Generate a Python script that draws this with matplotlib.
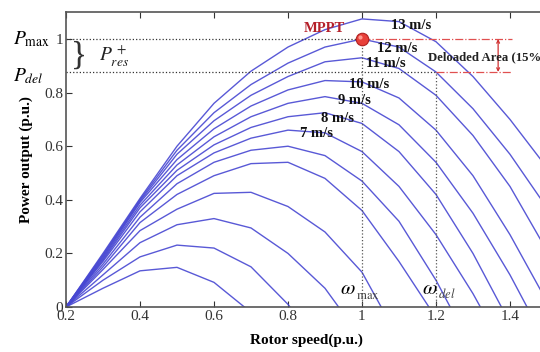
import matplotlib
matplotlib.use('Agg')
import matplotlib.pyplot as plt

# =============================================================================
# Data
# =============================================================================
omega = [0.2, 0.3, 0.4, 0.5, 0.6, 0.7, 0.8, 0.9, 1.0, 1.1, 1.2, 1.3, 1.4, 1.5]

p_1 = [0, 0.07, 0.135, 0.148, 0.092, -0.02]
p_2 = [0, 0.10, 0.187, 0.231, 0.22, 0.15, 0.01, -0.17]
p_3 = [0, 0.12, 0.24, 0.307, 0.33, 0.295, 0.20, 0.07, -0.12]
p_4 = [0, 0.14, 0.285, 0.365, 0.424, 0.428, 0.375, 0.28, 0.13, -0.12]
p_5 = [0, 0.15, 0.315, 0.42, 0.49, 0.535, 0.54, 0.48, 0.36, 0.17, -0.04]
p_6 = [0, 0.16, 0.335, 0.46, 0.54, 0.585, 0.60, 0.565, 0.47, 0.32, 0.10, -0.16]
p_7 = [0, 0.17, 0.355, 0.49, 0.575, 0.63, 0.66, 0.65, 0.58, 0.45, 0.27, 0.05, -0.2]
p_8 = [0, 0.175, 0.37, 0.51, 0.605, 0.67, 0.71, 0.725, 0.685, 0.58, 0.42, 0.20, -0.06]
p_9 = [0, 0.18, 0.38, 0.53, 0.635, 0.71, 0.76, 0.785, 0.76, 0.68, 0.54, 0.35, 0.12, -0.14]
p_10 = [0, 0.185, 0.39, 0.55, 0.665, 0.75, 0.81, 0.845, 0.84, 0.78, 0.66, 0.49, 0.27, 0.02]
p_11 = [0, 0.19, 0.395, 0.57, 0.695, 0.79, 0.86, 0.915, 0.93, 0.89, 0.79, 0.64, 0.45, 0.21]
p_12 = [0, 0.195, 0.40, 0.585, 0.725, 0.83, 0.91, 0.97, 1.0, 0.97, 0.877, 0.74, 0.57, 0.37]
p_13 = [0, 0.20, 0.405, 0.60, 0.76, 0.88, 0.97, 1.035, 1.075, 1.065, 0.99, 0.86, 0.70, 0.52]

curves = [p_1, p_2, p_3, p_4, p_5, p_6, p_7, p_8, p_9, p_10, p_11, p_12, p_13]

# wind speed labels
speed_labels = ['7 m/s', '8 m/s', '9 m/s', '10 m/s', '11 m/s', '12 m/s', '13 m/s']
speed_x = [0.877, 0.934, 0.98, 1.019, 1.065, 1.095, 1.132]
speed_y = [0.646, 0.705, 0.769, 0.832, 0.907, 0.966, 1.052]

w_max, p_max = 1.0, 1.0
w_del, p_del = 1.2, 0.877

xticks = [0.2, 0.4, 0.6, 0.8, 1.0, 1.2, 1.4]
xticklabels = ['0.2', '0.4', '0.6', '0.8', '1', '1.2', '1.4']
yticks = [0, 0.2, 0.4, 0.6, 0.8, 1.0]
yticklabels = ['0', '0.2', '0.4', '0.6', '0.8', '1']

# =============================================================================
# Plotting
# =============================================================================
plt.rcParams['font.family'] = ['Liberation Serif', 'DejaVu Serif']
plt.rcParams['mathtext.fontset'] = 'stix'

fig = plt.figure(figsize=(5.4, 3.52), dpi=100)
ax = fig.add_axes([0.1222, 0.1278, 0.8907, 0.8375])

for p in curves:
    ax.plot(omega[:len(p)], p, color='#4747d2', linewidth=1.0, alpha=0.9)

# dotted guide lines
ax.plot([0.2, w_max], [p_max, p_max], ':', color='#333333', linewidth=0.9)
ax.plot([0.2, w_del], [p_del, p_del], ':', color='#333333', linewidth=0.9)
ax.plot([w_max, w_max], [0, p_max], ':', color='#555555', linewidth=0.9)
ax.plot([w_del, w_del], [0, p_del], ':', color='#555555', linewidth=0.9)

# deloaded area (red dash-dot)
ax.plot([w_max, 1.405], [p_max, p_max], '-.', color='#e05050', linewidth=0.9)
ax.plot([w_del, 1.405], [p_del, p_del], '-.', color='#e05050', linewidth=0.9)
ax.annotate('', xy=(1.368, p_del), xytext=(1.368, p_max),
            arrowprops=dict(arrowstyle='<->', color='#d03030', lw=0.9,
                            mutation_scale=5, shrinkA=0, shrinkB=0))
ax.text(1.178, 0.93, 'Deloaded Area (15%)', fontsize=9.2, fontweight='bold',
        ha='left', va='center', color='#222222', clip_on=False)

# MPPT point
ax.plot([w_max], [p_max], 'o', markersize=9, color='#e8403a',
        markeredgecolor='#b02020', markeredgewidth=0.8)
ax.plot([0.994], [1.008], 'o', markersize=3, color='#ff9a90', markeredgewidth=0)
ax.text(0.897, 1.041, 'MPPT', fontsize=10.5, fontweight='bold', color='#b5202a',
        ha='center', va='center')

for lab, x, y in zip(speed_labels, speed_x, speed_y):
    ax.text(x, y, lab, fontsize=10.5, fontweight='bold', color='#111111',
            ha='center', va='center')

# omega labels
ax.text(0.94, 0.03, r'$\omega$', fontsize=15, ha='left', va='bottom')
ax.text(0.985, 0.02, r'$_{\max}$', fontsize=13, ha='left', va='bottom', color='#444444')
ax.text(1.162, 0.03, r'$\omega$', fontsize=15, ha='left', va='bottom')
ax.text(1.205, 0.02, r'$_{del}$', fontsize=13, ha='left', va='bottom', color='#444444')

# P labels outside the axes
ax.text(0.058, 1.0, r'$P_{\max}$', fontsize=14, ha='left', va='center', clip_on=False)
ax.text(0.058, 0.86, r'$P_{del}$', fontsize=14, ha='left', va='center', clip_on=False)
ax.text(0.236, 0.94, '}', fontsize=24, ha='center', va='center', color='#333333')
ax.text(0.29, 0.94, r'$P^{\,+}_{res}$', fontsize=14, ha='left', va='center', color='#222222')

# Axes styling
ax.set_xlim(0.2, 1.5)
ax.set_ylim(0, 1.1)
ax.set_xticks(xticks)
ax.set_xticklabels(xticklabels)
ax.set_yticks(yticks)
ax.set_yticklabels(yticklabels)
ax.tick_params(direction='in', top=True, right=False, labelsize=11,
               colors='#333333', length=4, pad=2)
for s in ax.spines.values():
    s.set_color('#555555')
    s.set_linewidth(1.2)

ax.set_xlabel('Rotor speed(p.u.)', fontsize=11, fontweight='bold', labelpad=8)
ax.set_ylabel('Power output (p.u.)', fontsize=11, fontweight='bold', labelpad=8)

fig.savefig('out.png', dpi=100)
